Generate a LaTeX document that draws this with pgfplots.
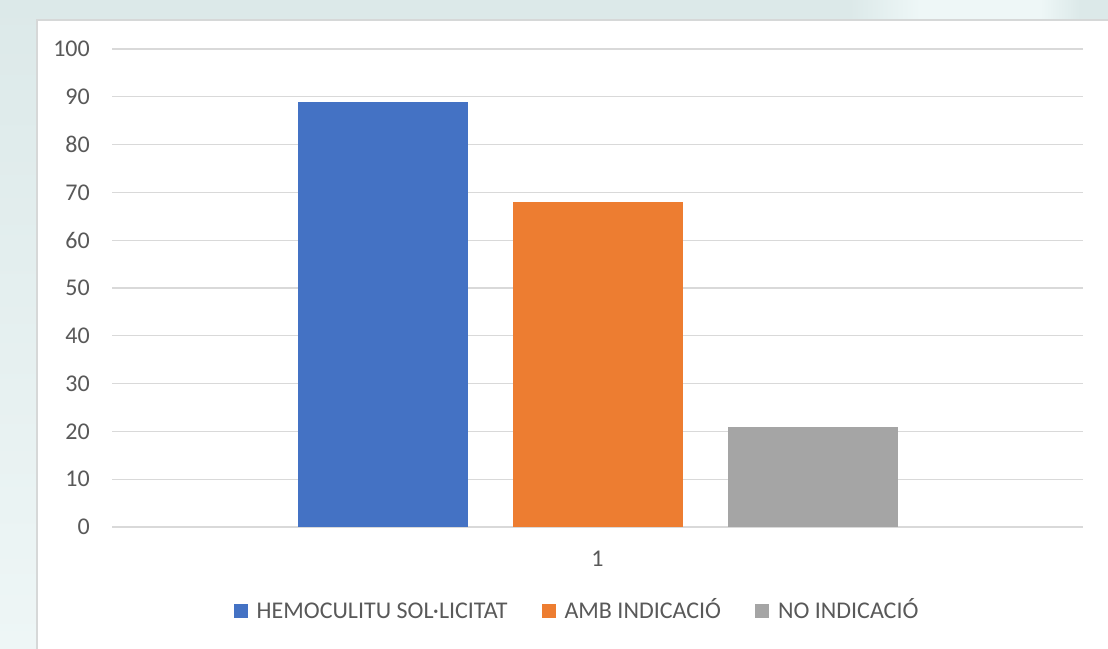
\documentclass[border=0pt]{standalone}
\usepackage{pgfplots}
\pgfplotsset{compat=1.18}
\usepackage{fontspec}
\setmainfont{Carlito}
\definecolor{bgtop}{RGB}{220,233,233}
\definecolor{bgbot}{RGB}{238,246,246}
\definecolor{bglight}{RGB}{238,247,247}
\definecolor{panelborder}{RGB}{214,216,216}
\definecolor{gridc}{RGB}{217,217,217}
\definecolor{tickc}{RGB}{89,89,89}
\definecolor{c1}{RGB}{68,114,196}
\definecolor{c2}{RGB}{237,125,49}
\definecolor{c3}{RGB}{165,165,165}
\begin{document}
\begin{tikzpicture}
\clip (0pt,0pt) rectangle (1108pt,648pt);
\shade[top color=bgtop,bottom color=bgbot] (0pt,0pt) rectangle (1108pt,648pt);
\shade[left color=bgtop,right color=bglight] (850pt,628pt) rectangle (920pt,648pt);
\fill[bglight] (920pt,628pt) rectangle (1040pt,648pt);
\shade[left color=bglight,right color=bgtop] (1040pt,628pt) rectangle (1080pt,648pt);
\filldraw[fill=white,draw=panelborder,line width=1.5pt] (37pt,-10pt) rectangle (1130pt,628pt);
\begin{axis}[
  at={(112pt,121pt)}, anchor=south west,
  scale only axis, width=971pt, height=478pt,
  xmin=0, xmax=2, ymin=0, ymax=100,
  ybar=45pt, bar width=170pt,
  xtick={1}, ytick={0,10,...,100},
  ymajorgrids, grid style={draw=gridc, line width=1.3pt},
  axis line style={draw=none},
  major tick length=0pt,
  /pgf/number format/assume math mode=true,
  tick label style={font=\fontsize{24}{28}\selectfont, text=tickc, inner sep=0pt},
  yticklabel style={anchor=east, xshift=-22pt},
  xticklabel style={anchor=north, yshift=-24pt},
  legend style={at={(rel axis cs:0.48,-0.1757)}, anchor=center, draw=none, fill=none,
    font=\fontsize{24}{28}\selectfont, text=tickc,
    /tikz/every odd column/.append style={column sep=5pt},
    /tikz/every even column/.append style={column sep=30pt},
    nodes={inner sep=4pt, text height=16pt, text depth=0pt}},
  legend columns=3,
  legend image code/.code={\fill[#1] (0pt,-7pt) rectangle (14pt,7pt);},
]
\addplot[fill=c1, draw=none] coordinates {(1,89)};
\addplot[fill=c2, draw=none] coordinates {(1,68)};
\addplot[fill=c3, draw=none] coordinates {(1,21)};
\legend{HEMOCULITU SOL·LICITAT, AMB INDICACIÓ, NO INDICACIÓ}
\end{axis}
\end{tikzpicture}
\end{document}
